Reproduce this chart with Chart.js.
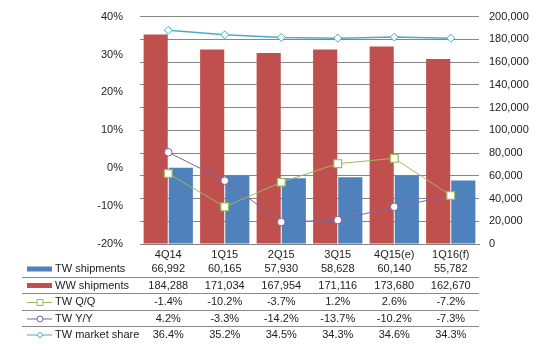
<!DOCTYPE html>
<html>
<head>
<meta charset="utf-8">
<script src="https://cdn.jsdelivr.net/npm/chart.js@4.4.1/dist/chart.umd.min.js"></script>
<style>
  html, body { margin: 0; padding: 0; background: #fff; }
  #wrap { position: relative; width: 539px; height: 350px; }
</style>
</head>
<body>
<div id="wrap"><canvas id="chart" width="539" height="350"></canvas></div>
<script>
// Datos del gráfico
const categories = ['4Q14', '1Q15', '2Q15', '3Q15', '4Q15(e)', '1Q16(f)'];
const twShipments = [66992, 60165, 57930, 58628, 60140, 55782];
const wwShipments = [184288, 171034, 167954, 171116, 173680, 162670];
const twQoQ = [-1.4, -10.2, -3.7, 1.2, 2.6, -7.2];
const twYoY = [4.2, -3.3, -14.2, -13.7, -10.2, -7.3];
const twShare = [36.4, 35.2, 34.5, 34.3, 34.6, 34.3];

const FONT = 'Liberation Sans, Arial, sans-serif';
const FSIZE = 11;
const BLUE = '#4F81BD', RED = '#C0504D', GREEN = '#9BBB59', PURPLE = '#8064A2', CYAN = '#4BACC6';

// filas de la tabla de datos bajo el gráfico
const tableRows = [
    { label: 'TW shipments', values: twShipments, kind: 'bar', color: BLUE, fmt: v => v.toLocaleString('en-US') },
    { label: 'WW shipments', values: wwShipments, kind: 'bar', color: RED, fmt: v => v.toLocaleString('en-US') },
    { label: 'TW Q/Q', values: twQoQ, kind: 'rect', color: GREEN, fmt: v => v.toFixed(1) + '%' },
    { label: 'TW Y/Y', values: twYoY, kind: 'circle', color: PURPLE, fmt: v => v.toFixed(1) + '%' },
    { label: 'TW market share', values: twShare, kind: 'diamond', color: CYAN, fmt: v => v.toFixed(1) + '%' }
];

const dataTable = {
    id: 'dataTable',
    afterDraw(chart) {
        const ctx = chart.ctx;
        const x = chart.scales.x;
        const rowY = [269, 285.5, 302, 318.5, 334.5];
        ctx.save();
        ctx.font = FSIZE + 'px ' + FONT;
        ctx.textBaseline = 'middle';
        // líneas separadoras
        ctx.strokeStyle = '#8a8a8a';
        ctx.lineWidth = 1;
        [277.5, 293.5, 310.5, 326.5].forEach(y => {
            ctx.beginPath();
            ctx.moveTo(22, y);
            ctx.lineTo(479, y);
            ctx.stroke();
        });
        tableRows.forEach((row, r) => {
            const y = rowY[r];
            // símbolo de leyenda
            if (row.kind === 'bar') {
                ctx.fillStyle = row.color;
                ctx.fillRect(27, y - 2.5, 25, 5);
            } else {
                ctx.strokeStyle = row.color;
                ctx.lineWidth = 1;
                ctx.beginPath();
                ctx.moveTo(27, y + 0.5);
                ctx.lineTo(52, y + 0.5);
                ctx.stroke();
                ctx.fillStyle = '#fff';
                ctx.beginPath();
                if (row.kind === 'rect') {
                    ctx.rect(37, y - 2.5, 6, 6);
                } else if (row.kind === 'circle') {
                    ctx.arc(40, y + 0.5, 3, 0, Math.PI * 2);
                } else {
                    ctx.moveTo(40, y - 2.5);
                    ctx.lineTo(43, y + 0.5);
                    ctx.lineTo(40, y + 3.5);
                    ctx.lineTo(37, y + 0.5);
                    ctx.closePath();
                }
                ctx.fill();
                ctx.stroke();
            }
            ctx.fillStyle = '#222';
            ctx.textAlign = 'left';
            ctx.fillText(row.label, 55, y);
            ctx.textAlign = 'center';
            row.values.forEach((v, i) => {
                ctx.fillText(row.fmt(v), x.getPixelForValue(i), y);
            });
        });
        ctx.restore();
    }
};

new Chart(document.getElementById('chart'), {
    type: 'bar',
    data: {
        labels: categories,
        datasets: [
            { type: 'line', label: 'TW Q/Q', data: twQoQ, yAxisID: 'y', order: 0,
              borderColor: GREEN, borderWidth: 1, pointStyle: 'rect', pointRadius: 5.5,
              pointBackgroundColor: '#fff', pointBorderColor: GREEN, pointBorderWidth: 1.2 },
            { type: 'line', label: 'TW Y/Y', data: twYoY, yAxisID: 'y', order: 0,
              borderColor: PURPLE, borderWidth: 1, pointStyle: 'circle', pointRadius: 3.8,
              pointBackgroundColor: '#fff', pointBorderColor: PURPLE, pointBorderWidth: 1 },
            { type: 'line', label: 'TW market share', data: twShare, yAxisID: 'y', order: 0,
              borderColor: CYAN, borderWidth: 1.6, pointStyle: 'rectRot', pointRadius: 4,
              pointBackgroundColor: '#fff', pointBorderColor: CYAN, pointBorderWidth: 1 },
            { label: 'WW shipments', data: wwShipments, yAxisID: 'y2', order: 1,
              backgroundColor: RED, categoryPercentage: 0.89, barPercentage: 0.96 },
            { label: 'TW shipments', data: twShipments, yAxisID: 'y2', order: 1,
              backgroundColor: BLUE, categoryPercentage: 0.89, barPercentage: 0.96 }
        ]
    },
    options: {
        responsive: false,
        animation: false,
        events: [],
        layout: { padding: { top: 14, left: 0, right: 0, bottom: 0 } },
        plugins: { legend: { display: false }, tooltip: { enabled: false } },
        scales: {
            x: {
                grid: { display: false, drawTicks: false },
                border: { display: true, color: '#808080' },
                ticks: { color: '#222', font: { family: FONT, size: FSIZE }, padding: 4, maxRotation: 0 },
                afterFit: s => { s.height = 106; }
            },
            y: {
                position: 'left',
                min: -20, max: 40,
                grid: { display: false },
                border: { display: false },
                ticks: { stepSize: 10, padding: 9, color: '#222', font: { family: FONT, size: FSIZE },
                         callback: v => v + '%' },
                afterFit: s => { s.width = 140; }
            },
            y2: {
                position: 'right',
                min: 0, max: 200000,
                grid: { display: true, color: '#868686', drawTicks: false },
                border: { display: false },
                ticks: { stepSize: 20000, padding: 10, color: '#222', font: { family: FONT, size: FSIZE },
                         callback: v => v.toLocaleString('en-US') },
                afterFit: s => { s.width = 60; }
            }
        }
    },
    plugins: [dataTable]
});
</script>
</body>
</html>
